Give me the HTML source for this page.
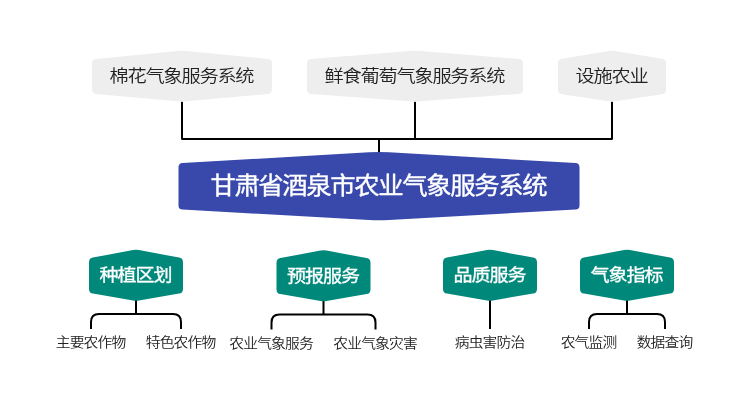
<!DOCTYPE html>
<html lang="zh-CN">
<head>
<meta charset="utf-8">
<title>甘肃省酒泉市农业气象服务系统</title>
<style>
html,body{margin:0;padding:0;background:#fff;}
body{width:749px;height:408px;overflow:hidden;}
svg{display:block;will-change:transform;}
text{font-family:"Liberation Sans","Noto Sans CJK SC",sans-serif;text-anchor:middle;}
.g{font-size:17.3px;letter-spacing:-1.084px;fill:#222;font-weight:350;}
.b{font-size:23.3px;letter-spacing:-1.282px;fill:#fff;stroke:#fff;stroke-width:0.35px;}
.t{font-size:17.1px;letter-spacing:-0.957px;fill:#fff;stroke:#fff;stroke-width:0.3px;}
.l{font-size:13.2px;letter-spacing:-0.700px;fill:#222;font-weight:350;}
.ln{fill:none;stroke:#000;stroke-width:2;}
</style>
</head>
<body>
<svg width="749" height="408" viewBox="0 0 749 408">
<rect width="749" height="408" fill="#fff"/>
<path class="ln" d="M182,101.7 V139 M181.4,139 H612.6 M612,101.7 V139 M415,101.7 V139 M379,139 V153"/>
<path d="M92.00,63.30 Q92.00,59.30 95.98,58.91 L177.50,51.02 Q182.00,50.58 186.50,51.02 L268.02,58.91 Q272.00,59.30 272.00,63.30 V89.60 Q272.00,93.60 268.02,93.95 L186.50,101.20 Q182.00,101.60 177.50,101.20 L95.98,93.95 Q92.00,93.60 92.00,89.60 Z" fill="#eeeeee"/>
<text class="g" transform="translate(181.40,81.8) scale(1.11,1)">棉花气象服务系统</text>
<path d="M307.00,63.30 Q307.00,59.30 310.99,58.98 L409.60,51.02 Q415.00,50.58 420.40,51.02 L519.01,58.98 Q523.00,59.30 523.00,63.30 V89.60 Q523.00,93.60 519.01,93.90 L420.40,101.20 Q415.00,101.60 409.60,101.20 L310.99,93.90 Q307.00,93.60 307.00,89.60 Z" fill="#eeeeee"/>
<text class="g" transform="translate(414.40,81.8) scale(1.11,1)">鲜食葡萄气象服务系统</text>
<path d="M558.00,63.30 Q558.00,59.30 561.95,58.66 L609.00,51.04 Q612.00,50.56 615.00,51.04 L662.05,58.66 Q666.00,59.30 666.00,63.30 V89.60 Q666.00,93.60 662.04,94.19 L615.00,101.18 Q612.00,101.62 609.00,101.18 L561.96,94.19 Q558.00,93.60 558.00,89.60 Z" fill="#eeeeee"/>
<text class="g" transform="translate(611.40,81.8) scale(1.11,1)">设施农业</text>
<path d="M178.50,167.30 Q178.50,163.30 182.49,163.07 L368.98,152.29 Q379.00,151.71 389.02,152.29 L575.51,163.07 Q579.50,163.30 579.50,167.30 V205.40 Q579.50,209.40 575.51,209.62 L389.02,219.92 Q379.00,220.48 368.98,219.92 L182.49,209.62 Q178.50,209.40 178.50,205.40 Z" fill="#3949ab"/>
<text class="b" transform="translate(378.30,194.4) scale(1.09,1)">甘肃省酒泉市农业气象服务系统</text>
<path class="ln" d="M136,299.7 V314 M91,329 V322 Q91,314 99,314 H173 Q181,314 181,322 V329"/>
<path d="M89.00,262.30 Q89.00,258.30 92.93,257.57 L133.00,250.08 Q136.00,249.52 139.00,250.08 L179.07,257.57 Q183.00,258.30 183.00,262.30 V288.90 Q183.00,292.90 179.06,293.58 L139.00,300.44 Q136.00,300.96 133.00,300.44 L92.94,293.58 Q89.00,292.90 89.00,288.90 Z" fill="#00897b"/>
<text class="t" transform="translate(135.47,281.3) scale(1.115,1)">种植区划</text>
<text class="l" transform="translate(90.61,346.7) scale(1.12,1)">主要农作物</text>
<text class="l" transform="translate(180.61,346.7) scale(1.12,1)">特色农作物</text>
<path class="ln" d="M323.5,300.2 V314.5 M271.5,329.5 V322.5 Q271.5,314.5 279.5,314.5 H367.5 Q375.5,314.5 375.5,322.5 V329.5"/>
<path d="M276.50,262.80 Q276.50,258.80 280.43,258.07 L320.50,250.58 Q323.50,250.02 326.50,250.58 L366.57,258.07 Q370.50,258.80 370.50,262.80 V289.40 Q370.50,293.40 366.56,294.08 L326.50,300.94 Q323.50,301.46 320.50,300.94 L280.44,294.08 Q276.50,293.40 276.50,289.40 Z" fill="#00897b"/>
<text class="t" transform="translate(322.97,282.3) scale(1.115,1)">预报服务</text>
<text class="l" transform="translate(271.11,347.7) scale(1.12,1)">农业气象服务</text>
<text class="l" transform="translate(375.11,347.7) scale(1.12,1)">农业气象灾害</text>
<path class="ln" d="M490,299.7 V329"/>
<path d="M443.00,262.30 Q443.00,258.30 446.93,257.57 L487.00,250.08 Q490.00,249.52 493.00,250.08 L533.07,257.57 Q537.00,258.30 537.00,262.30 V288.90 Q537.00,292.90 533.06,293.58 L493.00,300.44 Q490.00,300.96 487.00,300.44 L446.94,293.58 Q443.00,292.90 443.00,288.90 Z" fill="#00897b"/>
<text class="t" transform="translate(489.47,281.3) scale(1.115,1)">品质服务</text>
<text class="l" transform="translate(489.61,346.7) scale(1.12,1)">病虫害防治</text>
<path class="ln" d="M627,299.7 V314 M589,329 V322 Q589,314 597,314 H657 Q665,314 665,322 V329"/>
<path d="M580.00,262.30 Q580.00,258.30 583.93,257.57 L624.00,250.08 Q627.00,249.52 630.00,250.08 L670.07,257.57 Q674.00,258.30 674.00,262.30 V288.90 Q674.00,292.90 670.06,293.58 L630.00,300.44 Q627.00,300.96 624.00,300.44 L583.94,293.58 Q580.00,292.90 580.00,288.90 Z" fill="#00897b"/>
<text class="t" transform="translate(626.47,281.3) scale(1.115,1)">气象指标</text>
<text class="l" transform="translate(588.61,346.7) scale(1.12,1)">农气监测</text>
<text class="l" transform="translate(664.61,346.7) scale(1.12,1)">数据查询</text>
</svg>
</body>
</html>
